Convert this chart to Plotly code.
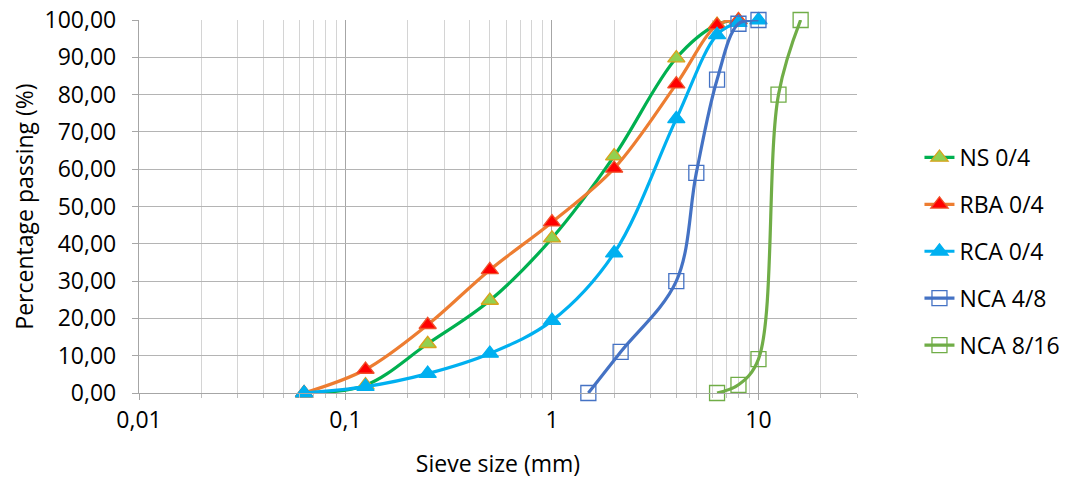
import plotly.graph_objects as go

# ---- data ----
sizes_ns = [0.063, 0.125, 0.25, 0.5, 1, 2, 4, 6.3, 8]
ns_04 = [0, 2.1, 13.2, 24.8, 41.5, 63.5, 89.8, 98.8, 100]

sizes_rba = [0.063, 0.125, 0.25, 0.5, 1, 2, 4, 6.3, 8]
rba_04 = [0, 6.3, 18.3, 33.0, 45.8, 60.2, 82.8, 98.6, 100]

sizes_rca = [0.063, 0.125, 0.25, 0.5, 1, 2, 4, 6.3, 8, 10]
rca_04 = [0, 1.7, 5.2, 10.6, 19.4, 37.5, 73.5, 96.0, 99.3, 100]

sizes_nca48 = [1.5, 2.15, 4, 5, 6.3, 8, 10]
nca_48 = [0, 11.0, 30.0, 59.0, 84.0, 99.0, 100]

sizes_nca816 = [6.3, 8, 10, 12.5, 16]
nca_816 = [0, 2.2, 9.1, 80.0, 100]

x_tickvals = [0.01, 0.1, 1, 10]
x_ticktext = ["0,01", "0,1", "1", "10"]
y_tickvals = list(range(0, 101, 10))

FONT = "Open Sans"
FS = 23

fig = go.Figure()

def add(name, x, y, color, msym, mfill, mline, msize):
    fig.add_trace(go.Scatter(
        x=x, y=y, name=name, mode="lines+markers",
        line=dict(color=color, width=3.2, shape="spline", smoothing=1.0),
        marker=dict(symbol=msym, size=msize, color=mfill,
                    line=dict(color=mline, width=1.3)),
        cliponaxis=False, legendgroup=name,
    ))

add("NS 0/4", sizes_ns, ns_04, "#00B050", "triangle-up", "#92D050", "#D9A21B", 15)
add("RBA 0/4", sizes_rba, rba_04, "#ED7D31", "triangle-up", "#FF0000", "#F0502A", 15)
add("RCA 0/4", sizes_rca, rca_04, "#00B0F0", "triangle-up", "#00B0F0", "#00B0F0", 15)
add("NCA 4/8", sizes_nca48, nca_48, "#4472C4", "square-open", "#4472C4", "#4472C4", 15)
add("NCA 8/16", sizes_nca816, nca_816, "#70AD47", "square-open", "#70AD47", "#70AD47", 15)

minor_vals = [k * 10 ** e for e in (-2, -1, 0, 1) for k in range(2, 10)]
minor_vals = [v for v in minor_vals if v <= 30]

# page body has an 8px margin, so the figure is drawn 8px in from the top-left
fig.update_layout(
    width=1061, height=472,
    margin=dict(l=131, r=212, t=12, b=87, autoexpand=False),
    paper_bgcolor="white", plot_bgcolor="white",
    separators=",.",
    font=dict(family=FONT, size=FS, color="#000000"),
    showlegend=True,
    legend=dict(x=1.087, xanchor="left", y=0.689, yanchor="top",
                font=dict(family=FONT, size=FS, color="#000000"),
                tracegroupgap=14, bgcolor="rgba(0,0,0,0)"),
)

fig.update_xaxes(
    type="log", range=[-2, 1.4771], automargin=False,
    tickvals=x_tickvals, ticktext=x_ticktext, ticklabeloverflow="allow",
    showgrid=True, gridcolor="#A6A6A6", gridwidth=1.3,
    minor=dict(tickvals=minor_vals, showgrid=True, gridcolor="#D4D4D4",
               gridwidth=1.3, ticks="outside", ticklen=4, tickcolor="#BFBFBF"),
    ticks="outside", ticklen=6, tickcolor="#A6A6A6",
    showline=True, linecolor="#A6A6A6", linewidth=1.3,
    tickfont=dict(family=FONT, size=FS),
    title=dict(text="Sieve size (mm)", font=dict(family=FONT, size=FS), standoff=22),
    zeroline=False,
)

fig.update_yaxes(
    range=[0, 100], tickvals=y_tickvals, tickformat=".2f", automargin=False,
    ticklabeloverflow="allow",
    showgrid=True, gridcolor="#B4B4B4", gridwidth=1.3,
    ticks="outside", ticklen=6, tickcolor="#A6A6A6", ticklabelstandoff=11,
    showline=True, linecolor="#A6A6A6", linewidth=1.3,
    tickfont=dict(family=FONT, size=FS),
    title=dict(text="Percentage passing (%)", font=dict(family=FONT, size=FS), standoff=17),
    zeroline=False,
)

fig.write_html("out.html")
